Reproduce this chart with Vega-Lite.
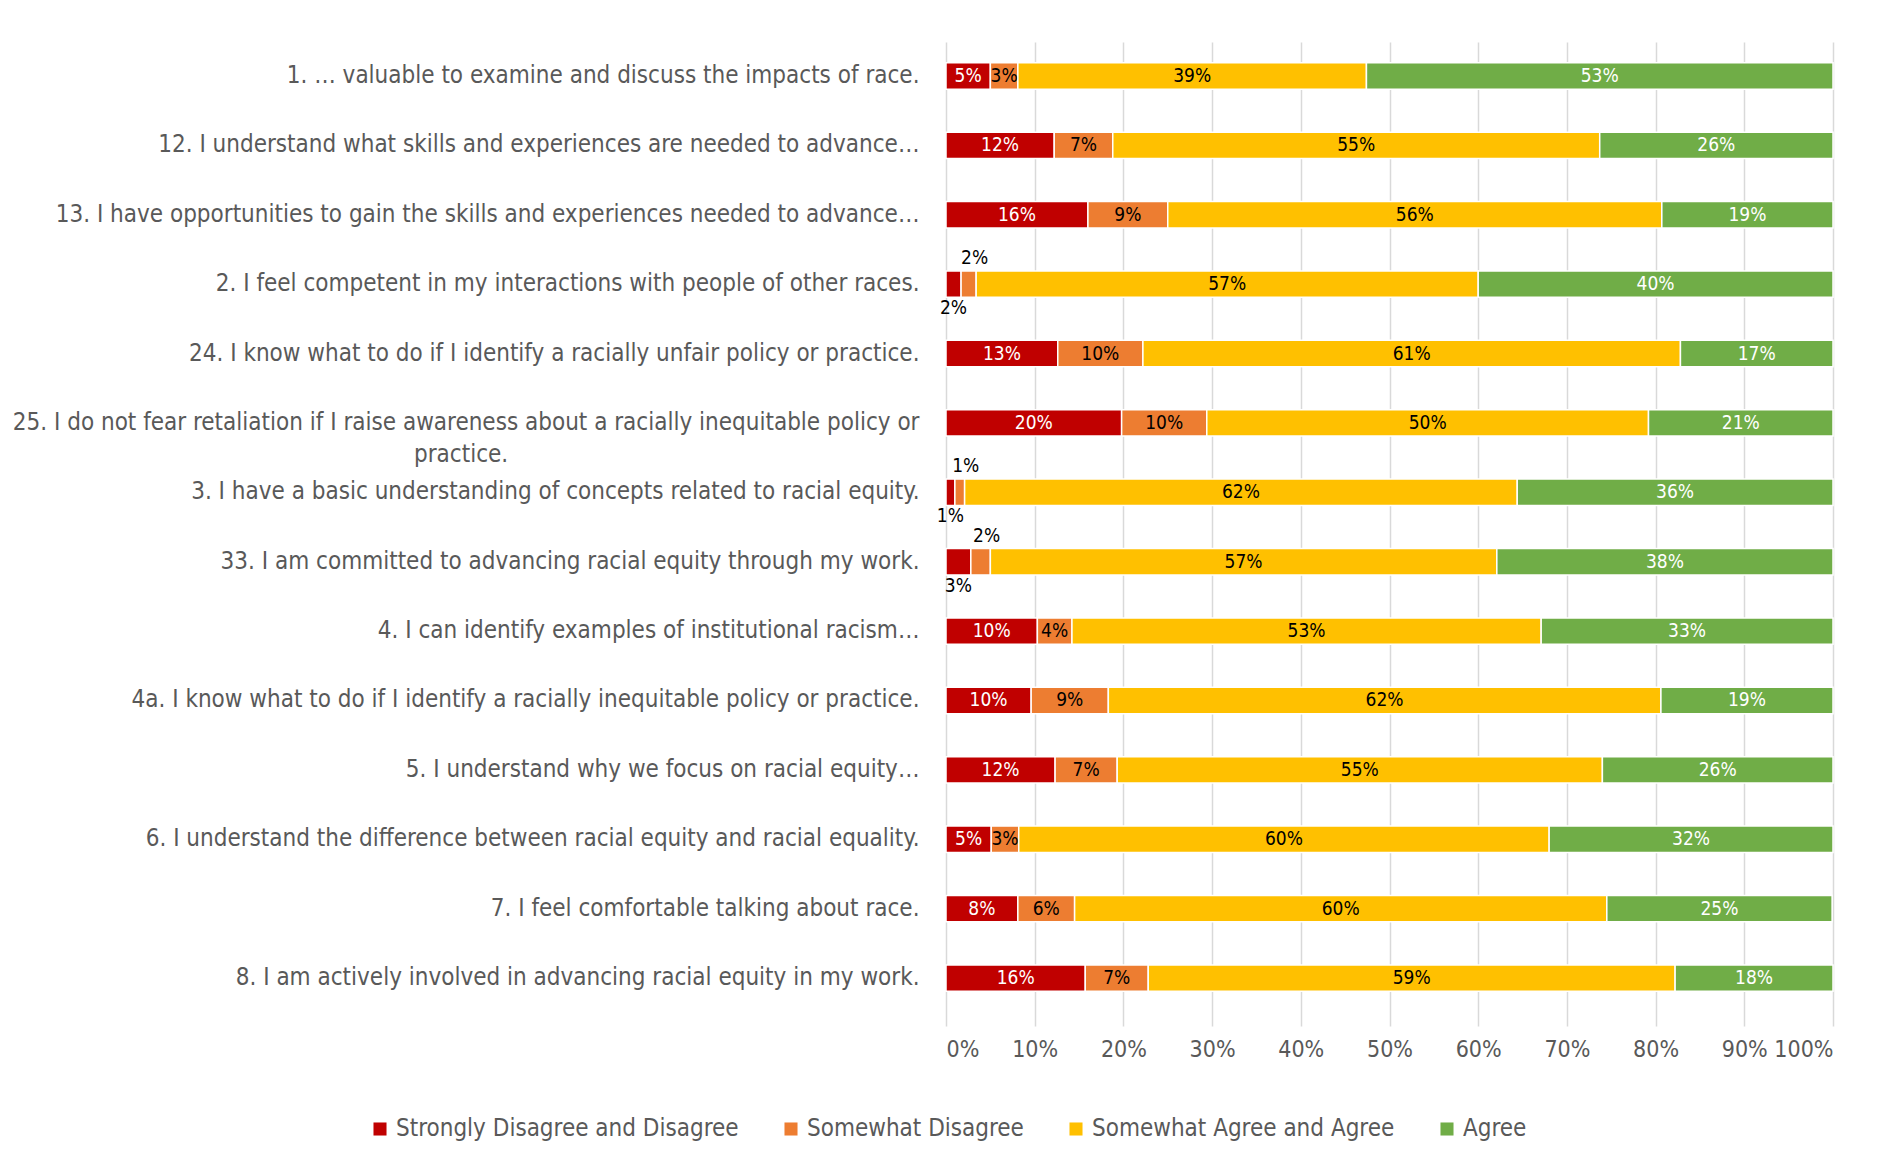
{
  "$schema": "https://vega.github.io/schema/vega-lite/v6.json",
  "width": 887,
  "height": 984,
  "autosize": {"type": "none"},
  "padding": {"left": 946, "top": 42, "right": 52, "bottom": 138},
  "background": "white",
  "config": {"font": "DejaVu Sans Condensed, Liberation Sans", "view": {"stroke": null}},
  "data": {"values": [
    {"question": "1. … valuable to examine and discuss the impacts of race.", "category": "Strongly Disagree and Disagree", "value": 0.050},
    {"question": "1. … valuable to examine and discuss the impacts of race.", "category": "Somewhat Disagree", "value": 0.031},
    {"question": "1. … valuable to examine and discuss the impacts of race.", "category": "Somewhat Agree and Agree", "value": 0.393},
    {"question": "1. … valuable to examine and discuss the impacts of race.", "category": "Agree", "value": 0.526},
    {"question": "12. I understand what skills and experiences are needed to advance…", "category": "Strongly Disagree and Disagree", "value": 0.122},
    {"question": "12. I understand what skills and experiences are needed to advance…", "category": "Somewhat Disagree", "value": 0.066},
    {"question": "12. I understand what skills and experiences are needed to advance…", "category": "Somewhat Agree and Agree", "value": 0.549},
    {"question": "12. I understand what skills and experiences are needed to advance…", "category": "Agree", "value": 0.263},
    {"question": "13. I have opportunities to gain the skills and experiences needed to advance…", "category": "Strongly Disagree and Disagree", "value": 0.160},
    {"question": "13. I have opportunities to gain the skills and experiences needed to advance…", "category": "Somewhat Disagree", "value": 0.090},
    {"question": "13. I have opportunities to gain the skills and experiences needed to advance…", "category": "Somewhat Agree and Agree", "value": 0.557},
    {"question": "13. I have opportunities to gain the skills and experiences needed to advance…", "category": "Agree", "value": 0.193},
    {"question": "2. I feel competent in my interactions with people of other races.", "category": "Strongly Disagree and Disagree", "value": 0.017},
    {"question": "2. I feel competent in my interactions with people of other races.", "category": "Somewhat Disagree", "value": 0.017},
    {"question": "2. I feel competent in my interactions with people of other races.", "category": "Somewhat Agree and Agree", "value": 0.566},
    {"question": "2. I feel competent in my interactions with people of other races.", "category": "Agree", "value": 0.400},
    {"question": "24. I know what to do if I identify a racially unfair policy or practice.", "category": "Strongly Disagree and Disagree", "value": 0.126},
    {"question": "24. I know what to do if I identify a racially unfair policy or practice.", "category": "Somewhat Disagree", "value": 0.096},
    {"question": "24. I know what to do if I identify a racially unfair policy or practice.", "category": "Somewhat Agree and Agree", "value": 0.606},
    {"question": "24. I know what to do if I identify a racially unfair policy or practice.", "category": "Agree", "value": 0.172},
    {"question": "25. I do not fear retaliation if I raise awareness about a racially inequitable policy or practice.", "category": "Strongly Disagree and Disagree", "value": 0.198},
    {"question": "25. I do not fear retaliation if I raise awareness about a racially inequitable policy or practice.", "category": "Somewhat Disagree", "value": 0.096},
    {"question": "25. I do not fear retaliation if I raise awareness about a racially inequitable policy or practice.", "category": "Somewhat Agree and Agree", "value": 0.498},
    {"question": "25. I do not fear retaliation if I raise awareness about a racially inequitable policy or practice.", "category": "Agree", "value": 0.208},
    {"question": "3. I have a basic understanding of concepts related to racial equity.", "category": "Strongly Disagree and Disagree", "value": 0.010},
    {"question": "3. I have a basic understanding of concepts related to racial equity.", "category": "Somewhat Disagree", "value": 0.011},
    {"question": "3. I have a basic understanding of concepts related to racial equity.", "category": "Somewhat Agree and Agree", "value": 0.623},
    {"question": "3. I have a basic understanding of concepts related to racial equity.", "category": "Agree", "value": 0.356},
    {"question": "33. I am committed to advancing racial equity through my work.", "category": "Strongly Disagree and Disagree", "value": 0.028},
    {"question": "33. I am committed to advancing racial equity through my work.", "category": "Somewhat Disagree", "value": 0.022},
    {"question": "33. I am committed to advancing racial equity through my work.", "category": "Somewhat Agree and Agree", "value": 0.571},
    {"question": "33. I am committed to advancing racial equity through my work.", "category": "Agree", "value": 0.379},
    {"question": "4. I can identify examples of institutional racism…", "category": "Strongly Disagree and Disagree", "value": 0.103},
    {"question": "4. I can identify examples of institutional racism…", "category": "Somewhat Disagree", "value": 0.039},
    {"question": "4. I can identify examples of institutional racism…", "category": "Somewhat Agree and Agree", "value": 0.529},
    {"question": "4. I can identify examples of institutional racism…", "category": "Agree", "value": 0.329},
    {"question": "4a. I know what to do if I identify a racially inequitable policy or practice.", "category": "Strongly Disagree and Disagree", "value": 0.096},
    {"question": "4a. I know what to do if I identify a racially inequitable policy or practice.", "category": "Somewhat Disagree", "value": 0.087},
    {"question": "4a. I know what to do if I identify a racially inequitable policy or practice.", "category": "Somewhat Agree and Agree", "value": 0.623},
    {"question": "4a. I know what to do if I identify a racially inequitable policy or practice.", "category": "Agree", "value": 0.194},
    {"question": "5. I understand why we focus on racial equity…", "category": "Strongly Disagree and Disagree", "value": 0.123},
    {"question": "5. I understand why we focus on racial equity…", "category": "Somewhat Disagree", "value": 0.070},
    {"question": "5. I understand why we focus on racial equity…", "category": "Somewhat Agree and Agree", "value": 0.547},
    {"question": "5. I understand why we focus on racial equity…", "category": "Agree", "value": 0.260},
    {"question": "6. I understand the difference between racial equity and racial equality.", "category": "Strongly Disagree and Disagree", "value": 0.051},
    {"question": "6. I understand the difference between racial equity and racial equality.", "category": "Somewhat Disagree", "value": 0.031},
    {"question": "6. I understand the difference between racial equity and racial equality.", "category": "Somewhat Agree and Agree", "value": 0.598},
    {"question": "6. I understand the difference between racial equity and racial equality.", "category": "Agree", "value": 0.320},
    {"question": "7. I feel comfortable talking about race.", "category": "Strongly Disagree and Disagree", "value": 0.081},
    {"question": "7. I feel comfortable talking about race.", "category": "Somewhat Disagree", "value": 0.064},
    {"question": "7. I feel comfortable talking about race.", "category": "Somewhat Agree and Agree", "value": 0.600},
    {"question": "7. I feel comfortable talking about race.", "category": "Agree", "value": 0.254},
    {"question": "8. I am actively involved in advancing racial equity in my work.", "category": "Strongly Disagree and Disagree", "value": 0.157},
    {"question": "8. I am actively involved in advancing racial equity in my work.", "category": "Somewhat Disagree", "value": 0.071},
    {"question": "8. I am actively involved in advancing racial equity in my work.", "category": "Somewhat Agree and Agree", "value": 0.594},
    {"question": "8. I am actively involved in advancing racial equity in my work.", "category": "Agree", "value": 0.178}
  ]},
  "transform": [
    {"stack": "value", "groupby": ["question"], "sort": [{"field": "category", "order": "descending"}], "as": ["start", "end"]}
  ],
  "encoding": {
    "y": {
      "field": "question",
      "type": "nominal",
      "sort": [
        "1. … valuable to examine and discuss the impacts of race.",
        "12. I understand what skills and experiences are needed to advance…",
        "13. I have opportunities to gain the skills and experiences needed to advance…",
        "2. I feel competent in my interactions with people of other races.",
        "24. I know what to do if I identify a racially unfair policy or practice.",
        "25. I do not fear retaliation if I raise awareness about a racially inequitable policy or practice.",
        "3. I have a basic understanding of concepts related to racial equity.",
        "33. I am committed to advancing racial equity through my work.",
        "4. I can identify examples of institutional racism…",
        "4a. I know what to do if I identify a racially inequitable policy or practice.",
        "5. I understand why we focus on racial equity…",
        "6. I understand the difference between racial equity and racial equality.",
        "7. I feel comfortable talking about race.",
        "8. I am actively involved in advancing racial equity in my work."
      ],
      "scale": {"paddingInner": 0.62, "paddingOuter": 0.4, "align": 0.374},
      "axis": {
        "title": null,
        "domain": false,
        "ticks": false,
        "labelPadding": 27,
        "labelFontSize": 24,
        "labelColor": "#595959",
        "labelLimit": 0,
        "labelLineHeight": 32,
        "labelExpr": "datum.value == '25. I do not fear retaliation if I raise awareness about a racially inequitable policy or practice.' ? ['25. I do not fear retaliation if I raise awareness about a racially inequitable policy or', pad('practice.', 35, '\u2800')] : datum.value"
      }
    }
  },
  "layer": [
    {
      "mark": {"type": "bar", "stroke": "white", "strokeWidth": 1.5},
      "encoding": {
        "x": {
          "field": "start",
          "type": "quantitative",
          "scale": {"domain": [0, 1], "nice": false},
          "axis": {
            "title": null,
            "format": ".0%",
            "values": [0, 0.1, 0.2, 0.3, 0.4, 0.5, 0.6, 0.7, 0.8, 0.9, 1],
            "labelOverlap": false,
            "grid": true,
            "gridColor": "#d9d9d9",
            "gridWidth": 1.5,
            "domain": false,
            "ticks": false,
            "labelPadding": 12,
            "labelFontSize": 23,
            "labelColor": "#595959"
          }
        },
        "x2": {"field": "end"},
        "color": {
          "field": "category",
          "type": "nominal",
          "scale": {
            "domain": ["Strongly Disagree and Disagree", "Somewhat Disagree", "Somewhat Agree and Agree", "Agree"],
            "range": ["#C00000", "#ED7D31", "#FFC000", "#70AD47"]
          },
          "legend": {
            "orient": "none",
            "legendX": -578,
            "legendY": 1075,
            "direction": "horizontal",
            "columns": 4,
            "title": null,
            "symbolType": "square",
            "symbolSize": 170,
            "symbolStrokeWidth": 0,
            "labelFontSize": 24,
            "labelColor": "#595959",
            "labelLimit": 0,
            "labelOffset": 4,
            "columnPadding": 40
          }
        }
      }
    },
    {
      "transform": [
        {"fold": ["start", "end"], "as": ["edge", "pos"]},
        {"aggregate": [{"op": "mean", "field": "pos", "as": "mid"}], "groupby": ["question", "category", "value"]},
        {"filter": "(datum.category == 'Strongly Disagree and Disagree' || datum.category == 'Agree') && datum.value >= 0.03"}
      ],
      "mark": {"type": "text", "fontSize": 19, "fill": "white", "baseline": "middle", "align": "center"},
      "encoding": {
        "x": {"field": "mid", "type": "quantitative", "axis": {"title": null}},
        "text": {"field": "value", "type": "quantitative", "format": ".0%"}
      }
    },
    {
      "transform": [
        {"fold": ["start", "end"], "as": ["edge", "pos"]},
        {"aggregate": [{"op": "mean", "field": "pos", "as": "mid"}], "groupby": ["question", "category", "value"]},
        {"filter": "(datum.category == 'Somewhat Disagree' || datum.category == 'Somewhat Agree and Agree') && datum.value >= 0.03"}
      ],
      "mark": {"type": "text", "fontSize": 19, "fill": "black", "baseline": "middle", "align": "center"},
      "encoding": {
        "x": {"field": "mid", "type": "quantitative", "axis": {"title": null}},
        "text": {"field": "value", "type": "quantitative", "format": ".0%"}
      }
    },
    {
      "transform": [
        {"fold": ["start", "end"], "as": ["edge", "pos"]},
        {"aggregate": [{"op": "mean", "field": "pos", "as": "mid"}], "groupby": ["question", "category", "value"]},
        {"filter": "datum.category == 'Somewhat Disagree' && datum.value < 0.03"}
      ],
      "mark": {"type": "text", "fontSize": 19, "fill": "black", "baseline": "middle", "align": "center", "dy": -26, "dx": 6},
      "encoding": {
        "x": {"field": "mid", "type": "quantitative", "axis": {"title": null}},
        "text": {"field": "value", "type": "quantitative", "format": ".0%"}
      }
    },
    {
      "transform": [
        {"fold": ["start", "end"], "as": ["edge", "pos"]},
        {"aggregate": [{"op": "mean", "field": "pos", "as": "mid"}], "groupby": ["question", "category", "value"]},
        {"filter": "datum.category == 'Strongly Disagree and Disagree' && datum.value < 0.03"}
      ],
      "mark": {"type": "text", "fontSize": 19, "fill": "black", "baseline": "middle", "align": "center", "dy": 24},
      "encoding": {
        "x": {"field": "mid", "type": "quantitative", "axis": {"title": null}},
        "text": {"field": "value", "type": "quantitative", "format": ".0%"}
      }
    }
  ]
}
